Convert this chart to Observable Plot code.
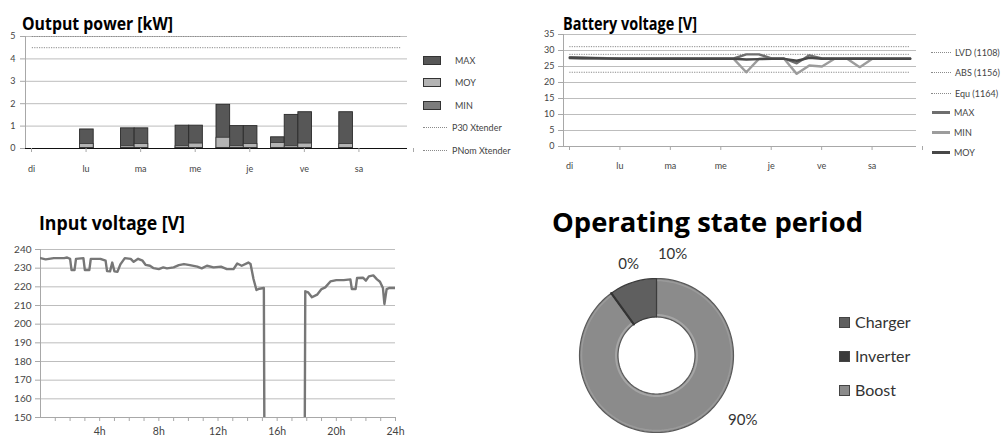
<!DOCTYPE html>
<html><head><meta charset="utf-8">
<script src="https://cdn.jsdelivr.net/npm/d3@7"></script>
<script src="https://cdn.jsdelivr.net/npm/@observablehq/plot@0.6"></script>
<style>
body{margin:0;background:#fff;font-family:Lato,"Open Sans",sans-serif;}
#root{position:relative;width:1005px;height:441px;overflow:hidden;background:#fff;}
.title{position:absolute;font-family:"Open Sans",Lato,sans-serif;font-weight:bold;color:#000;white-space:nowrap;line-height:1;transform-origin:0 0;}
.leg{position:absolute;font-size:9px;color:#444;white-space:nowrap;line-height:1;display:flex;align-items:center;}
.leg2{position:absolute;font-size:16px;color:#333;white-space:nowrap;line-height:1;display:flex;align-items:center;}
</style></head><body><div id="root"></div>
<script>
// ---------- data ----------
const days = ["di", "lu", "ma", "me", "je", "ve", "sa"];

// Output power: 6-hour slots (0..27) that carry a bar
const powerSlot = [4, 7, 8, 11, 12, 14, 15, 16, 18, 19, 20, 23];
const powerMax  = [0.85, 0.9, 0.9, 1.02, 1.02, 1.95, 1.0, 1.0, 0.5, 1.5, 1.62, 1.62];
const powerMoy  = [0.2, 0.1, 0.2, 0.1, 0.22, 0.48, 0.1, 0.2, 0.25, 0.1, 0.22, 0.2];
const powerMin  = [0.02, 0.02, 0.02, 0.02, 0.02, 0.02, 0.02, 0.02, 0.02, 0.02, 0.02, 0.02];
const powerLimitNames  = ["P30 Xtender", "PNom Xtender"];
const powerLimitValues = [5.0, 4.5];

// Battery voltage: one value per 6-hour slot (28 slots)
const batMax = [27.9, 27.8, 27.7, 27.6, 27.5, 27.5, 27.5, 27.5, 27.5, 27.5, 27.5, 27.5, 27.5, 27.5,
                28.8, 28.8, 27.5, 27.5, 26.0, 28.5, 27.5, 27.5, 27.5, 27.5, 27.5, 27.5, 27.5, 27.5];
const batMin = [27.6, 27.6, 27.5, 27.5, 27.4, 27.4, 27.4, 27.4, 27.4, 27.4, 27.4, 27.4, 27.4, 27.4,
                23.2, 27.4, 27.4, 27.4, 22.7, 25.3, 25.0, 27.4, 27.4, 24.8, 27.4, 27.4, 27.4, 27.4];
const batMoy = [27.7, 27.6, 27.6, 27.5, 27.4, 27.4, 27.4, 27.4, 27.4, 27.4, 27.4, 27.4, 27.4, 27.4,
                27.2, 27.3, 27.4, 27.4, 26.8, 27.7, 27.4, 27.4, 27.4, 27.4, 27.4, 27.4, 27.4, 27.4];
const batLimitNames  = ["LVD (1108)", "ABS (1156)", "Equ (1164)"];
const batLimitValues = [23.2, 28.8, 31.2];

// Input voltage over 24 h
const inHour = [0, 0.35, 0.9, 1.6, 1.8, 2.0, 2.1, 2.3, 2.4, 2.9, 3.0, 3.3, 3.4, 4.05, 4.4, 4.5, 4.7, 4.85,
  5.0, 5.2, 5.4, 5.7, 6.1, 6.3, 6.6, 6.9, 7.1, 7.4, 7.65, 8.0, 8.3, 8.55, 9.0, 9.35, 9.7, 10.1, 10.6,
  10.9, 11.25, 11.7, 12.2, 12.6, 13.05, 13.3, 13.6, 14.05, 14.2, 14.4, 14.6, 14.8, 15.1, 15.2, 17.8,
  17.9, 18.1, 18.35, 18.7, 19.0, 19.25, 19.6, 20.0, 20.5, 20.95, 21.05, 21.3, 21.4, 21.8, 22.0, 22.2,
  22.5, 22.75, 22.95, 23.15, 23.25, 23.4, 23.6, 24];
const inVolt = [235.4, 234.7, 235.4, 235.4, 235.7, 235.0, 229.0, 229.0, 235.0, 235.4, 229.0, 229.0, 235.0,
  235.0, 234.0, 228.4, 228.3, 233.0, 228.3, 228.0, 232.0, 235.4, 235.0, 233.4, 235.0, 234.0, 231.8,
  231.3, 230.0, 229.5, 230.4, 229.9, 230.4, 231.6, 232.2, 231.6, 230.8, 229.9, 231.3, 230.4, 230.8,
  229.5, 229.5, 232.5, 231.3, 233.0, 232.2, 224.2, 218.3, 219.0, 219.4, 0, 0,
  217.6, 217.0, 214.4, 215.8, 218.8, 219.7, 222.9, 223.6, 223.6, 224.0, 218.8, 218.8, 224.7, 224.9,
  223.3, 225.6, 226.1, 224.0, 222.7, 219.4, 210.8, 218.8, 219.4, 219.4];

// Operating state
const states = ["Charger", "Inverter", "Boost"];
const stateShare = [10, 0, 90];

// ---------- layout helpers ----------
const root = document.getElementById("root");
function place(el, left, top) { el.style.position = "absolute"; el.style.left = left + "px"; el.style.top = top + "px"; root.appendChild(el); return el; }
// title fitted to a cap-top, cap-height and width (Open Sans metrics)
function title(text, left, capTop, capH, width) {
  const fs = capH / 0.714;
  const d = document.createElement("div"); d.className = "title"; d.textContent = text;
  d.style.fontSize = fs + "px";
  // Open Sans: ascent 1.069, descent 0.293 -> half-leading -0.181; baseline at 0.888em; cap top at 0.174em
  place(d, left, capTop - 0.174 * fs);
  const w = d.getBoundingClientRect().width;
  d.style.transform = `scaleX(${width / w})`;
  return d;
}
const grid = "#bdbdbd", axisC = "#a8a8a8", tickC = "#444";
const baseStyle = {fontFamily: "Lato, 'Open Sans', sans-serif", color: tickC, background: "transparent", overflow: "visible"};
const dayTick = d => (d % 4 === 0 && d < 28) ? days[d / 4] : "";

// ---------- 1. Output power ----------
title("Output power [kW]", 22, 17, 13.2, 151);
const powerRows = powerSlot.map((s, i) => ({s, max: powerMax[i], moy: powerMoy[i], min: powerMin[i]}));
const p1 = Plot.plot({
  width: 415, height: 150, marginLeft: 25, marginRight: 8, marginTop: 6, marginBottom: 32,
  style: {...baseStyle, fontSize: "9px"},
  x: {domain: [0, 28], axis: null},
  y: {domain: [0, 5], axis: null},
  marks: [
    Plot.gridY([1, 2, 3, 4, 5], {stroke: grid, strokeOpacity: 1}),
    Plot.ruleX([0], {stroke: axisC}),
    Plot.axisY({ticks: [0, 1, 2, 3, 4, 5], tickFormat: "d", label: null, tickSize: 5, tickPadding: 5, stroke: axisC, fill: tickC, fontSize: 9}),
    Plot.rectY(powerRows, {x1: "s", x2: d => d.s + 1, y: "max", fill: "#575757", stroke: "#2a2a2a", strokeWidth: 0.9}),
    Plot.rectY(powerRows, {x1: "s", x2: d => d.s + 1, y: "moy", fill: "#b4b4b4", stroke: "#333", strokeWidth: 0.8}),
    Plot.rectY(powerRows, {x1: "s", x2: d => d.s + 1, y: "min", fill: "#7d7d7d", stroke: "#333", strokeWidth: 0.6}),
    Plot.ruleY(powerLimitValues, {x1: 0.5, x2: 27.5, stroke: "#8a8a8a", strokeDasharray: "1.2,1.2", strokeWidth: 1}),
    Plot.ruleY([0], {stroke: "#111", strokeWidth: 1.2}),
    Plot.axisX({ticks: d3.range(0, 29, 4), tickFormat: dayTick, label: null, tickSize: 4, tickPadding: 13, dx: 6, stroke: axisC, fill: tickC, fontSize: 9})
  ]
});
place(p1, 0, 30);

// legend 1
[{name: "MAX", fill: "#575757"}, {name: "MOY", fill: "#b4b4b4"}, {name: "MIN", fill: "#7d7d7d"}].forEach((d, i) => {
  const e = document.createElement("div"); e.className = "leg";
  e.innerHTML = `<span style="display:inline-block;width:16px;height:7px;background:${d.fill};border:1px solid #333;margin-right:14px"></span>${d.name}`;
  place(e, 423, 56 + i * 22.3);
});
powerLimitNames.forEach((n, i) => {
  const e = document.createElement("div"); e.className = "leg";
  e.innerHTML = `<span style="display:inline-block;width:24px;border-top:1px dotted #8a8a8a;margin-right:5px"></span>${n}`;
  place(e, 423, 123 + i * 22.6);
});

// ---------- 2. Battery voltage ----------
title("Battery voltage [V]", 563, 18.3, 12.4, 134);
const batRows = batMax.map((v, i) => ({x: i + 0.5, max: v, min: batMin[i], moy: batMoy[i]}));
const p2 = Plot.plot({
  width: 380, height: 150, marginLeft: 23, marginRight: 4, marginTop: 4, marginBottom: 34,
  style: {...baseStyle, fontSize: "9px"},
  x: {domain: [0, 28], axis: null},
  y: {domain: [0, 35], axis: null},
  marks: [
    Plot.gridY(d3.range(5, 36, 5), {stroke: grid, strokeOpacity: 1}),
    Plot.ruleX([0], {stroke: axisC}),
    Plot.ruleY([0], {stroke: axisC}),
    Plot.axisY({ticks: d3.range(0, 36, 5), label: null, tickSize: 5, tickPadding: 4, stroke: axisC, fill: tickC, fontSize: 9}),
    Plot.axisX({ticks: d3.range(0, 29, 4), tickFormat: dayTick, label: null, tickSize: 4, tickPadding: 12, dx: 6, stroke: axisC, fill: tickC, fontSize: 9}),
    Plot.ruleY(batLimitValues, {x1: 0.5, x2: 27.5, stroke: "#8a8a8a", strokeDasharray: "1.2,1.2", strokeWidth: 1}),
    Plot.line(batRows, {x: "x", y: "max", stroke: "#6e6e6e", strokeWidth: 2.4}),
    Plot.line(batRows, {x: "x", y: "min", stroke: "#9c9c9c", strokeWidth: 2.4}),
    Plot.line(batRows, {x: "x", y: "moy", stroke: "#474747", strokeWidth: 2.4})
  ]
});
place(p2, 540, 30);

batLimitNames.forEach((n, i) => {
  const e = document.createElement("div"); e.className = "leg";
  e.innerHTML = `<span style="display:inline-block;width:20px;border-top:1px dotted #8a8a8a;margin-right:4px"></span>${n}`;
  place(e, 931, 48 + i * 20.3);
});
[{n: "MAX", c: "#6e6e6e"}, {n: "MIN", c: "#9c9c9c"}, {n: "MOY", c: "#474747"}].forEach((d, i) => {
  const e = document.createElement("div"); e.className = "leg";
  e.innerHTML = `<span style="display:inline-block;width:18px;border-top:3px solid ${d.c};margin-right:4px"></span>${d.n}`;
  place(e, 932, 108 + i * 20.2);
});

// ---------- 3. Input voltage ----------
title("Input voltage [V]", 39, 216.7, 14, 146);
const inRows = inHour.map((h, i) => ({h, v: inVolt[i]}));
const p3 = Plot.plot({
  width: 405, height: 200, marginLeft: 40, marginRight: 10, marginTop: 9, marginBottom: 23,
  style: {...baseStyle, fontSize: "10px"},
  x: {domain: [0, 24], axis: null},
  y: {domain: [150, 240], axis: null},
  marks: [
    Plot.gridY(d3.range(160, 241, 10), {stroke: grid, strokeOpacity: 1}),
    Plot.ruleX([0], {stroke: axisC}),
    Plot.ruleY([150], {stroke: axisC}),
    Plot.axisY({ticks: d3.range(150, 241, 10), label: null, tickSize: 5, tickPadding: 4, stroke: axisC, fill: tickC, fontSize: 10}),
    Plot.axisX({ticks: d3.range(1, 25), tickFormat: d => d % 4 === 0 ? d + "h" : "", label: null, tickSize: 4, tickPadding: 6, stroke: axisC, fill: tickC, fontSize: 10.5}),
    Plot.line(inRows, {x: "h", y: "v", stroke: "#777", strokeWidth: 2.4, clip: true})
  ]
});
place(p3, 0, 240);

// ---------- 4. Operating state period ----------
title("Operating state period", 552, 215, 18.5, 311);
const R = 77, r0 = 38.5, N = 120;
let acc = 0;
const slices = states.map((s, i) => {
  const a0 = acc; acc += stateShare[i] / 100 * 2 * Math.PI;
  return {s, a0, a1: acc, share: stateShare[i]};
});
// angle measured counter-clockwise from 12 o'clock
const pt = (a, rad) => ({x: -rad * Math.sin(a), y: rad * Math.cos(a)});
const ring = sl => {
  const n = Math.max(2, Math.ceil(N * (sl.a1 - sl.a0) / (2 * Math.PI)));
  const outer = d3.range(n + 1).map(k => pt(sl.a0 + (sl.a1 - sl.a0) * k / n, R));
  const inner = d3.range(n + 1).map(k => pt(sl.a1 - (sl.a1 - sl.a0) * k / n, r0));
  return outer.concat(inner).map(p => ({...p, s: sl.s}));
};
const stateFill = {Charger: "#5f5f5f", Inverter: "#3a3a3a", Boost: "#8b8b8b"};
const stateStroke = {Charger: "#3c3c3c", Inverter: "#333", Boost: "#5a5a5a"};
// label placement (layout): angle (deg, clockwise from top) and radius
const labelLayout = {Charger: [9, 103], Inverter: [-17, 95], Boost: [127, 108]};
const labelRows = slices.map(sl => {
  const [deg, rad] = labelLayout[sl.s];
  const a = deg * Math.PI / 180;
  return {x: rad * Math.sin(a), y: rad * Math.cos(a), t: sl.share + "%"};
});
const p4 = Plot.plot({
  width: 240, height: 240, margin: 0,
  style: {...baseStyle, fontSize: "15px"},
  x: {domain: [-120, 120], axis: null},
  y: {domain: [-120, 120], axis: null},
  marks: [
    ...slices.filter(sl => sl.s === "Boost").map(sl => Plot.line(ring(sl), {x: "x", y: "y", curve: "linear-closed", fill: stateFill[sl.s], stroke: stateStroke[sl.s], strokeWidth: 1.2})),
    Plot.line(d3.range(N + 1).map(k => pt(2 * Math.PI * k / N, R - 2)), {x: "x", y: "y", curve: "linear-closed", stroke: "#9a9a9a", strokeWidth: 1.5}),
    Plot.line(d3.range(N + 1).map(k => pt(2 * Math.PI * k / N, r0 + 2)), {x: "x", y: "y", curve: "linear-closed", stroke: "#a5a5a5", strokeWidth: 2}),
    ...slices.filter(sl => sl.s !== "Boost").map(sl => Plot.line(ring(sl), {x: "x", y: "y", curve: "linear-closed", fill: stateFill[sl.s], stroke: stateStroke[sl.s], strokeWidth: sl.share === 0 ? 2.2 : 1.2})),
    Plot.text(labelRows, {x: "x", y: "y", text: "t", fill: "#333", fontSize: 15})
  ]
});
place(p4, 536, 235);

states.forEach((s, i) => {
  const e = document.createElement("div"); e.className = "leg2";
  e.innerHTML = `<span style="display:inline-block;width:9px;height:9px;background:${stateFill[s]};border:1px solid #444;margin-right:5px"></span>${s}`;
  place(e, 839, 314 + i * 34);
});
</script></body></html>
